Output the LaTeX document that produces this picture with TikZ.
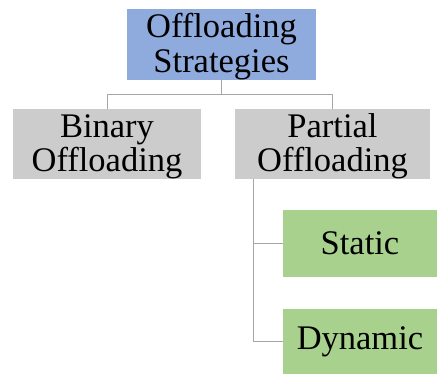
\documentclass[tikz,border=0pt]{standalone}
\usepackage{fontspec}
\setmainfont{Liberation Serif}
\definecolor{rootblue}{HTML}{8FAADC}
\definecolor{typegrey}{HTML}{CCCCCC}
\definecolor{kindgreen}{HTML}{A9D18E}
\definecolor{linkgrey}{HTML}{A6A6A6}

\begin{document}
\begin{tikzpicture}[x=1pt, y=-1pt,
    box/.style={draw=none, inner sep=0pt, align=center, font=\fontsize{34.5}{34.5}\selectfont},
    twoline/.style={box, text height=63pt},
    link/.style={draw=linkgrey, line width=0.9pt}]
    \useasboundingbox (0,0) rectangle (437,374);

    \node[twoline, fill=rootblue, minimum width=189pt, minimum height=69pt] (strat) at (221.5,44.5) {Offloading\\Strategies};
    \node[twoline, fill=typegrey, minimum width=188pt, minimum height=68pt] (binary) at (107,144) {Binary\\Offloading};
    \node[twoline, fill=typegrey, minimum width=195pt, minimum height=68pt] (partial) at (332.5,144) {Partial\\Offloading};
    \node[box, fill=kindgreen, minimum width=154pt, minimum height=67pt] (static) at (360,243.5) {Static};
    \node[box, fill=kindgreen, minimum width=154pt, minimum height=65pt] (dynamic) at (360,341.5) {Dynamic};

    \draw[link] (strat.south) -- ++(0,15) -| (binary.north);
    \draw[link] (strat.south) -- ++(0,15) -| (partial.north);
    \coordinate (trunk) at ([xshift=19pt]partial.south west);
    \draw[link] (trunk) |- (static.west);
    \draw[link] (trunk) |- (dynamic.west);
\end{tikzpicture}
\end{document}
